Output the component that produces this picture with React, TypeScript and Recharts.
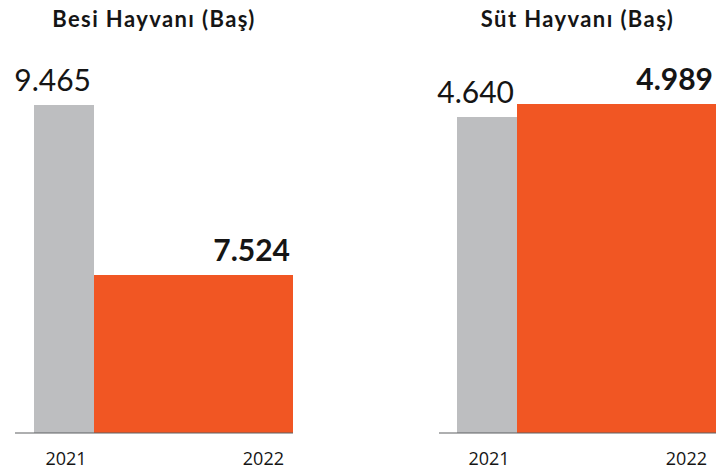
import React from "react";
import { BarChart, Bar, XAxis, YAxis, LabelList } from "recharts";

const YEARS = ["2021", "2022"];
const BESI_VALUES = [9465, 7524];
const SUT_VALUES = [4640, 4989];
const TITLES = ["Besi Hayvanı (Baş)", "Süt Hayvanı (Baş)"];

const GRAY = "#bdbec0";
const ORANGE = "#f15623";
const INK = "#151515";
const FONT = "Lato, 'Open Sans', sans-serif";

// 9465 -> "9.465"
const fmt = (v: number) => String(v).replace(/\B(?=(\d{3})+(?!\d))/g, ".");

const toRow = (values: number[]) => [
  { cat: "all", prev: values[0], curr: values[1], prevYear: YEARS[0], currYear: YEARS[1] },
];

const valueLabel = (bold: boolean) => (props: any) => {
  const { x, y, width } = props.viewBox ?? props;
  return (
    <text
      x={x + width - 3}
      y={y - 14}
      textAnchor="end"
      fontFamily={FONT}
      fontSize={30}
      fontWeight={bold ? 700 : 400}
      fill={INK}
    >
      {fmt(Number(props.value))}
    </text>
  );
};

const yearLabel = (align: "middle" | "end") => (props: any) => {
  const { x, y, width, height } = props.viewBox ?? props;
  const tx = align === "middle" ? x + width / 2 + 2 : x + width - 9;
  return (
    <text
      x={tx}
      y={y + height + 32}
      textAnchor={align}
      fontFamily="'Open Sans', sans-serif"
      fontSize={18}
      fill={INK}
    >
      {props.value}
    </text>
  );
};

interface PanelProps {
  title: string;
  values: number[];
  left: number;
  width: number;
  margin: { top: number; right: number; bottom: number; left: number };
  padLeft: number;
  domain: [number, number];
}

function Panel({ title, values, left, width, margin, padLeft, domain }: PanelProps) {
  const plotWidth = width - margin.left - margin.right;
  const base = domain[0];
  return (
    <div style={{ position: "absolute", left, top: 0, width, height: 469 }}>
      <div
        style={{
          position: "absolute",
          top: 8,
          left: margin.left,
          width: plotWidth,
          textAlign: "center",
          fontFamily: FONT,
          fontWeight: 700,
          fontSize: 22,
          lineHeight: 1,
          color: INK,
          letterSpacing: 1.4,
          whiteSpace: "nowrap",
        }}
      >
        {title}
      </div>
      <BarChart
        width={width}
        height={469}
        data={toRow(values)}
        margin={margin}
        barGap={0}
        barCategoryGap={0}
      >
        <XAxis
          dataKey="cat"
          tick={false}
          tickLine={false}
          height={1}
          padding={{ left: padLeft, right: 0 }}
          axisLine={{ stroke: "#5f6062", strokeWidth: 1.2 }}
        />
        <YAxis hide type="number" domain={domain} allowDataOverflow />
        {/* bars drawn as ranges so they start at the bottom of the (non-zero) domain */}
        <Bar dataKey={(d: any) => [base, d.prev]} fill={GRAY} barSize={60} isAnimationActive={false}>
          <LabelList dataKey="prev" content={valueLabel(false)} />
          <LabelList dataKey="prevYear" content={yearLabel("middle")} />
        </Bar>
        <Bar dataKey={(d: any) => [base, d.curr]} fill={ORANGE} barSize={199} isAnimationActive={false}>
          <LabelList dataKey="curr" content={valueLabel(true)} />
          <LabelList dataKey="currYear" content={yearLabel("end")} />
        </Bar>
      </BarChart>
    </div>
  );
}

export default function App() {
  return (
    <div style={{ position: "absolute", left: 0, top: 0, width: 719, height: 469, background: "#fff" }}>
      <Panel
        title={TITLES[0]}
        values={BESI_VALUES}
        left={0}
        width={360}
        margin={{ top: 105, right: 67, bottom: 35, left: 15 }}
        padLeft={18}
        domain={[5720, 9465]}
      />
      <Panel
        title={TITLES[1]}
        values={SUT_VALUES}
        left={360}
        width={359}
        margin={{ top: 104, right: 3, bottom: 35, left: 79 }}
        padLeft={17}
        domain={[-3843, 4989]}
      />
    </div>
  );
}
